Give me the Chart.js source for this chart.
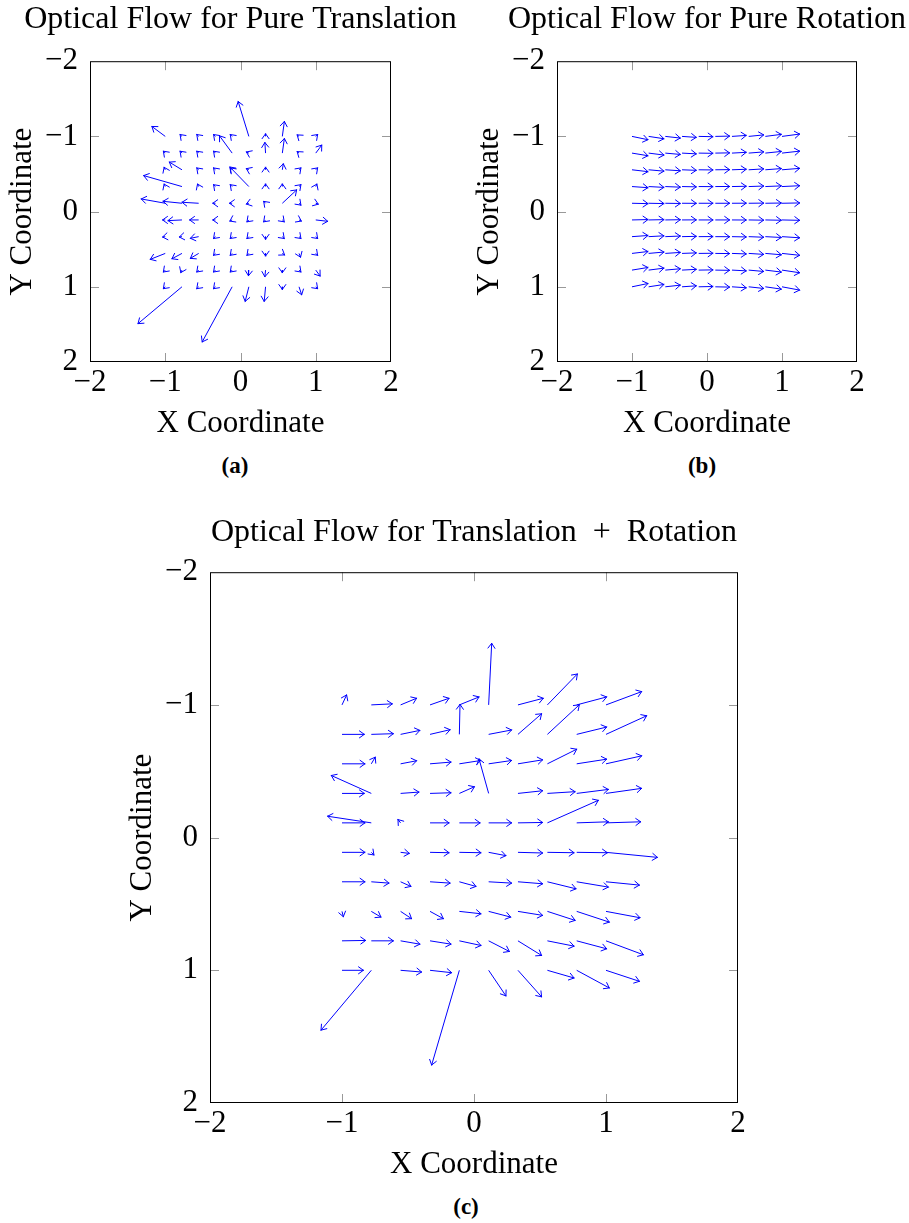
<!DOCTYPE html>
<html>
<head>
<meta charset="utf-8">
<script src="https://cdn.jsdelivr.net/npm/chart.js@4.4.0/dist/chart.umd.min.js"></script>
<style>
  html, body { margin: 0; padding: 0; background: #fff; overflow: hidden; }
  body { width: 909px; height: 1223px; position: relative; }
  canvas { position: absolute; }
  .cap { position: absolute; font: bold 23px "Liberation Serif", serif; line-height: 24px; transform: translateX(-50%); color: #000; }
</style>
</head>
<body>
<canvas id="chartA" width="481" height="447" style="left:0;top:0"></canvas>
<canvas id="chartB" width="480" height="447" style="left:467px;top:0"></canvas>
<canvas id="chartC" width="708" height="698" style="left:120px;top:490px"></canvas>
<div class="cap" style="left:235px;top:454px">(a)</div>
<div class="cap" style="left:702px;top:454px">(b)</div>
<div class="cap" style="left:466px;top:1195px">(c)</div>
<script>
// grid where the flow vectors start
const gridX = [-1, -0.778, -0.556, -0.333, -0.111, 0.111, 0.333, 0.556, 0.778, 1];
const gridY = [-1, -0.778, -0.556, -0.333, -0.111, 0.111, 0.333, 0.556, 0.778, 1];
const tickValues = [-2, -1, 0, 1, 2];

// (a) pure translation, rows = gridY, cols = gridX
const transU = [
  [-0.177, -0.025, -0.025, -0.025, -0.025, -0.142, 0, 0.027, -0.025, 0.025],
  [-0.025, -0.025, -0.025, -0.025, -0.168, -0.033, -0.009, 0.027, -0.025, 0.08],
  [-0.015, -0.168, -0.025, -0.025, -0.025, -0.033, 0, 0.013, 0.025, 0.025],
  [-0.015, -0.509, -0.015, -0.025, -0.025, -0.252, 0, 0, 0.025, 0.015],
  [-0.319, -0.252, -0.221, -0.035, -0.035, -0.033, -0.025, 0.19, 0.025, 0.033],
  [-0.035, -0.186, -0.12, -0.035, -0.03, -0.025, -0.025, 0.025, 0.03, 0.159],
  [-0.035, -0.035, -0.11, -0.025, -0.025, -0.025, 0, 0.025, 0.025, 0.025],
  [-0.199, -0.133, -0.11, -0.025, -0.025, -0.025, 0, 0.03, 0.02, 0.025],
  [-0.025, -0.015, -0.025, -0.025, -0.025, -0.005, -0.009, 0, 0.025, 0.058],
  [-0.025, -0.584, -0.025, -0.025, -0.398, -0.049, -0.018, 0, 0.035, 0.025]
];
const transV = [
  [-0.132, -0.025, -0.025, -0.025, -0.025, -0.464, -0.035, -0.199, -0.02, -0.025],
  [-0.025, -0.025, -0.025, -0.025, -0.23, -0.015, -0.141, -0.194, -0.02, -0.106],
  [-0.033, -0.102, -0.025, -0.025, -0.025, -0.015, -0.035, -0.08, -0.025, -0.025],
  [-0.033, -0.146, -0.033, -0.025, -0.025, -0.26, -0.035, -0.035, -0.025, -0.033],
  [-0.057, -0.026, -0.013, 0, 0, 0.01, -0.025, -0.177, 0.025, 0.012],
  [0, 0.009, 0, 0, 0.015, 0.025, 0.025, 0.025, 0.015, 0.018],
  [0.005, 0.005, 0.022, 0.025, 0.025, 0.025, 0.035, 0.025, 0.025, 0.025],
  [0.079, 0.071, 0.066, 0.025, 0.025, 0.025, 0.035, 0.02, 0.05, 0.025],
  [0.025, 0.033, 0.025, 0.025, 0.025, 0.075, 0.088, 0.035, 0.025, 0.079],
  [0.025, 0.49, 0.025, 0.025, 0.733, 0.194, 0.194, 0.035, 0.106, 0.025]
];

// (b) pure rotation: u read per column, v per cell
const rotU = [0.213, 0.204, 0.2, 0.19, 0.19, 0.19, 0.19, 0.2, 0.213, 0.235];
const rotV = [
  [0.044, 0.031, 0.022, 0.013, 0.004, -0.004, -0.013, -0.02, -0.027, -0.031],
  [0.035, 0.026, 0.018, 0.01, 0.003, -0.003, -0.01, -0.016, -0.022, -0.026],
  [0.025, 0.018, 0.013, 0.007, 0.002, -0.002, -0.007, -0.012, -0.016, -0.019],
  [0.015, 0.011, 0.008, 0.004, 0.001, -0.001, -0.004, -0.007, -0.009, -0.011],
  [0.005, 0.004, 0.003, 0.001, 0, 0, -0.001, -0.002, -0.003, -0.004],
  [-0.005, -0.004, -0.003, -0.001, 0, 0, 0.001, 0.003, 0.004, 0.005],
  [-0.015, -0.011, -0.008, -0.004, -0.001, 0.001, 0.004, 0.008, 0.011, 0.015],
  [-0.025, -0.018, -0.013, -0.007, -0.002, 0.002, 0.007, 0.013, 0.018, 0.025],
  [-0.035, -0.026, -0.018, -0.01, -0.003, 0.003, 0.01, 0.018, 0.026, 0.035],
  [-0.044, -0.031, -0.022, -0.013, -0.004, 0.004, 0.013, 0.022, 0.031, 0.044]
];

// (c) translation + rotation
const bothU = [
  [0.035, 0.159, 0.121, 0.144, 0.149, 0.023, 0.192, 0.227, 0.227, 0.27],
  [0.169, 0.167, 0.146, 0.152, 0.005, 0.174, 0.179, 0.242, 0.227, 0.308],
  [0.174, 0.03, 0.121, 0.159, 0.162, 0.174, 0.187, 0.222, 0.227, 0.27],
  [0.169, -0.303, 0.139, 0.159, 0.114, -0.073, 0.187, 0.21, 0.24, 0.27],
  [0.174, -0.331, -0.02, 0.144, 0.157, 0.174, 0.187, 0.386, 0.24, 0.263],
  [0.174, 0.02, 0.066, 0.144, 0.164, 0.131, 0.187, 0.202, 0.232, 0.389],
  [0.174, 0.134, 0.078, 0.152, 0.126, 0.174, 0.187, 0.217, 0.24, 0.253],
  [0.01, 0.073, 0.083, 0.101, 0.164, 0.167, 0.187, 0.21, 0.247, 0.258],
  [0.179, 0.167, 0.146, 0.159, 0.164, 0.157, 0.179, 0.202, 0.227, 0.283],
  [0.162, -0.381, 0.159, 0.164, -0.21, 0.131, 0.179, 0.202, 0.247, 0.253]
];
const bothV = [
  [-0.075, -0.008, -0.05, -0.05, -0.06, -0.464, -0.05, -0.233, -0.06, -0.1],
  [0, -0.005, -0.03, -0.035, -0.226, -0.033, -0.155, -0.223, -0.055, -0.14],
  [0, -0.05, -0.023, -0.013, -0.025, -0.025, -0.03, -0.11, -0.035, -0.06],
  [0, -0.135, -0.01, -0.005, -0.05, -0.26, -0.02, -0.013, -0.03, -0.038],
  [0, -0.05, -0.025, 0, 0, 0, -0.003, -0.17, -0.008, -0.008],
  [0, 0.02, 0.008, 0.003, 0.003, 0.025, 0.005, 0.003, 0.003, 0.038],
  [0, 0.01, 0.035, 0.01, 0.035, 0.01, 0.015, 0.053, 0.04, 0.025],
  [0.04, 0.043, 0.055, 0.055, 0.018, 0.043, 0.03, 0.068, 0.081, 0.048],
  [-0.003, 0, 0.025, 0.025, 0.035, 0.08, 0.11, 0.04, 0.06, 0.105],
  [0, 0.451, 0.013, 0.018, 0.714, 0.193, 0.2, 0.058, 0.133, 0.083]
];

const FONT = '"Liberation Serif", "Times New Roman", serif';
const BLUE = '#0000ff';
const HEAD_LEN = 6;
const HEAD_ANGLE = 0.62; // radians
const TICK = 9;

// start, tip, gap for every vector
function arrowPoints(uAt, vAt) {
  const pts = [];
  gridY.forEach((y, j) => gridX.forEach((x, i) => {
    pts.push({ x, y }, { x: x + uAt(j, i), y: y + vAt(j, i) }, { x: null, y: null });
  }));
  return pts;
}

const arrowHeads = {
  id: 'arrowHeads',
  afterDatasetsDraw(chart) {
    const ctx = chart.ctx;
    chart.data.datasets.forEach((ds, di) => {
      const pts = chart.getDatasetMeta(di).data;
      ctx.save();
      ctx.strokeStyle = ds.borderColor;
      ctx.lineWidth = ds.borderWidth;
      ctx.lineCap = 'round';
      ctx.beginPath();
      for (let k = 0; k + 1 < pts.length; k += 3) {
        const p0 = pts[k], p1 = pts[k + 1];
        const ang = Math.atan2(p1.y - p0.y, p1.x - p0.x);
        [-HEAD_ANGLE, HEAD_ANGLE].forEach(d => {
          ctx.moveTo(p1.x, p1.y);
          ctx.lineTo(p1.x - HEAD_LEN * Math.cos(ang + d), p1.y - HEAD_LEN * Math.sin(ang + d));
        });
      }
      ctx.stroke();
      ctx.restore();
    });
  }
};

// pgfplots style box with inward ticks on all sides
const frame = {
  id: 'frame',
  afterDatasetsDraw(chart) {
    const { ctx, chartArea: a, scales: { x, y } } = chart;
    ctx.save();
    ctx.strokeStyle = '#999';
    ctx.lineWidth = 1;
    ctx.beginPath();
    tickValues.slice(1, -1).forEach(v => {
      const px = Math.round(x.getPixelForValue(v)) + 0.5;
      const py = Math.round(y.getPixelForValue(v)) + 0.5;
      ctx.moveTo(px, a.top); ctx.lineTo(px, a.top + TICK);
      ctx.moveTo(px, a.bottom); ctx.lineTo(px, a.bottom - TICK);
      ctx.moveTo(a.left, py); ctx.lineTo(a.left + TICK, py);
      ctx.moveTo(a.right, py); ctx.lineTo(a.right - TICK, py);
    });
    ctx.stroke();
    ctx.strokeStyle = '#000';
    ctx.strokeRect(a.left + 0.5, a.top + 0.5, a.right - a.left - 1, a.bottom - a.top - 1);
    ctx.restore();
  }
};

const fmtTick = v => (v < 0 ? '\u2212' + Math.abs(v) : String(v));
const setTicks = s => { s.ticks = tickValues.map(value => ({ value })); };

function makeChart(id, titleText, titlePad, points) {
  const font = { family: FONT, size: 31, lineHeight: 1.2, weight: 'normal' };
  const titleFont = { family: FONT, size: 32, lineHeight: 1.2, weight: 'normal' };
  return new Chart(document.getElementById(id), {
    type: 'scatter',
    data: {
      datasets: [{
        data: points, showLine: true, spanGaps: false,
        borderColor: BLUE, borderWidth: 1, pointRadius: 0, pointHoverRadius: 0
      }]
    },
    options: {
      responsive: false,
      animation: false,
      events: [],
      layout: { padding: 0 },
      plugins: {
        legend: { display: false },
        tooltip: { enabled: false },
        title: { display: true, text: titleText, color: '#000', font: titleFont, padding: titlePad }
      },
      scales: {
        x: {
          type: 'linear', min: -2, max: 2,
          afterBuildTicks: setTicks,
          afterFit: s => { s.height = 85; },
          grid: { display: false, drawTicks: false },
          border: { display: false },
          ticks: { padding: 2.4, color: '#000', font, callback: fmtTick, autoSkip: false, maxRotation: 0 },
          title: { display: true, text: 'X Coordinate', color: '#000', font, padding: { top: 0, bottom: 4.4 } }
        },
        y: {
          type: 'linear', position: 'left', reverse: true, min: -2, max: 2,
          afterBuildTicks: setTicks,
          afterFit: s => { s.width = 90; },
          grid: { display: false, drawTicks: false },
          border: { display: false },
          ticks: { padding: 12, color: '#000', font, callback: fmtTick, autoSkip: false },
          title: { display: true, text: 'Y Coordinate', color: '#000', font, padding: { top: 4.4, bottom: 0 } }
        },
        // empty right axis so the title centres over the plot box
        y2: {
          type: 'linear', position: 'right', min: -2, max: 2,
          afterFit: s => { s.width = 90; },
          grid: { display: false, drawTicks: false },
          border: { display: false },
          ticks: { display: false }
        }
      }
    },
    plugins: [frame, arrowHeads]
  });
}

makeChart('chartA', 'Optical Flow for Pure Translation', { top: 0.4, bottom: 22.4 },
  arrowPoints((j, i) => transU[j][i], (j, i) => transV[j][i]));
makeChart('chartB', 'Optical Flow for Pure Rotation', { top: 0.4, bottom: 22.4 },
  arrowPoints((j, i) => rotU[i], (j, i) => rotV[j][i]));
makeChart('chartC', 'Optical Flow for Translation  +  Rotation', { top: 23.4, bottom: 20.4 },
  arrowPoints((j, i) => bothU[j][i], (j, i) => bothV[j][i]));
</script>
</body>
</html>
